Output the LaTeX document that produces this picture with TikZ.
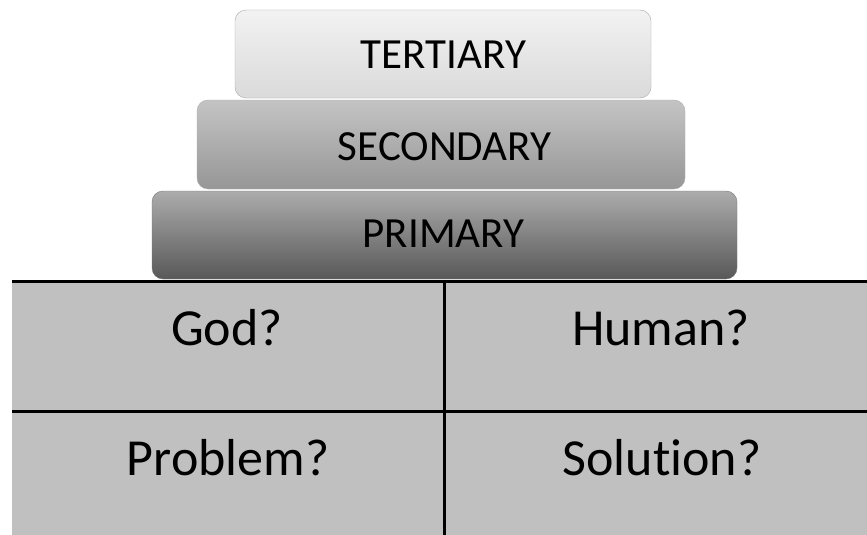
\documentclass[tikz,border=0pt]{standalone}
\usepackage{fontspec}
\setmainfont{Carlito}[Ligatures=NoCommon]
\definecolor{cellgray}{RGB}{192,192,192}
\definecolor{tAtop}{RGB}{242,242,242}
\definecolor{tAbot}{RGB}{218,218,218}
\definecolor{tAdraw}{RGB}{170,170,170}
\definecolor{tBtop}{RGB}{196,196,196}
\definecolor{tBbot}{RGB}{150,150,150}
\definecolor{tBdraw}{RGB}{175,175,175}
\definecolor{tCtop}{RGB}{172,172,172}
\definecolor{tCbot}{RGB}{88,88,88}
\definecolor{tCdraw}{RGB}{120,120,120}
\begin{document}
\begin{tikzpicture}[x=1pt,y=-1pt,
  tier/.style={rounded corners=11pt, draw=#1},
  tiertext/.style={font=\fontsize{43}{50}\selectfont, text=black, anchor=base, inner sep=0pt},
  celltext/.style={font=\fontsize{52}{60}\selectfont, text=black, anchor=base, inner sep=0pt},
  gridline/.style={line width=2.5pt, black}]
\useasboundingbox (0,0) rectangle (867,535);
\fill[white] (0,0) rectangle (867,535);
% table background
\fill[cellgray] (12,281) rectangle (867,535);
% tiers
\shade[tier=tAdraw, top color=tAtop, bottom color=tAbot] (235,10) rectangle (651,98);
\shade[tier=tBdraw, top color=tBtop, bottom color=tBbot] (197,100) rectangle (685,189);
\shade[tier=tCdraw, top color=tCtop, bottom color=tCbot] (152,191) rectangle (737,279);
\node[tiertext] (tert) at (443.5,69) {TERTIARY};
\node[tiertext] (sec) at (444.5,160) {SECONDARY};
\node[tiertext] (prim) at (443.5,247) {PRIMARY};
% grid lines
\coordinate (tl) at (12,281.5);
\coordinate (tr) at (867,281.5);
\coordinate (ml) at (12,411.5);
\coordinate (mr) at (867,411.5);
\coordinate (vt) at (444.5,281.5);
\coordinate (vb) at (444.5,535);
\draw[gridline] (tl) -- (tr);
\draw[gridline] (ml) -- (mr);
\draw[gridline] (vt) -- (vb);
% cell texts
\node[celltext] (god) at (227,345) {God?};
\node[celltext] (human) at (661,345) {Human?};
\node[celltext] (problem) at (228,475) {Problem?};
\node[celltext] (solution) at (662,475) {Solution?};
\end{tikzpicture}
\end{document}
